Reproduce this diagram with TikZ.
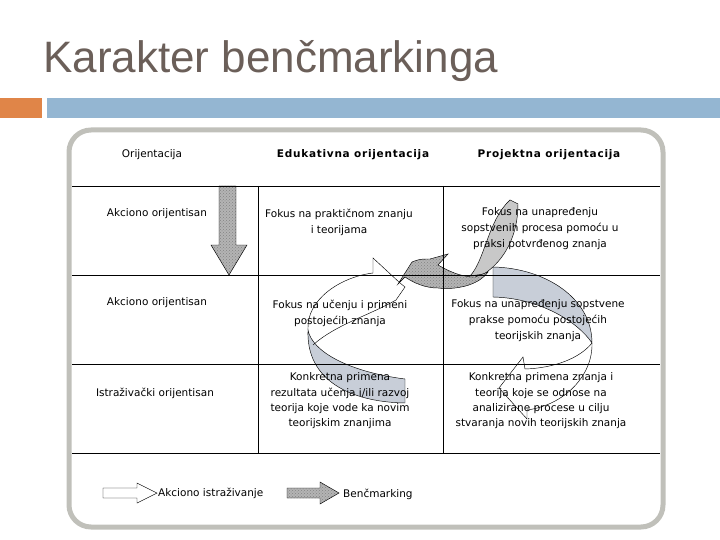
\documentclass[tikz,border=0pt]{standalone}
\usepackage{fontspec}
\setmainfont{DejaVu Sans}
\newfontfamily\titlefont{Liberation Sans}
\usepackage{tikz}
\usetikzlibrary{patterns}

\begin{document}
\begin{tikzpicture}[x=1pt,y=-1pt,
  cell/.style={align=center,inner sep=0pt,font=\fontsize{10.5}{16}\selectfont},
  headcell/.style={cell,font=\fontsize{10.5}{16}\selectfont\bfseries\addfontfeature{LetterSpace=7}},
  grid line/.style={line width=0.8pt},
  outline/.style={draw=black,line width=0.45pt},
  bench/.style={outline,preaction={fill=benchColor},pattern=crosshatch dots,pattern color=benchDots}]
\definecolor{titleColor}{RGB}{107,95,89}
\definecolor{orangeColor}{RGB}{224,133,72}
\definecolor{blueColor}{RGB}{148,182,210}
\definecolor{boxColor}{RGB}{192,192,186}
\definecolor{faceA}{RGB}{200,206,216}
\definecolor{faceD}{RGB}{200,200,200}
\definecolor{benchColor}{RGB}{180,180,180}
\definecolor{benchDots}{RGB}{130,130,130}
\useasboundingbox (0,0) rectangle (720,540);
\node[anchor=base west,inner sep=0pt,text=titleColor,font=\titlefont\fontsize{44}{50}\selectfont] (title) at (43,73) {Karakter benčmarkinga};
\fill[orangeColor] (0,98) rectangle (42,118);
\fill[blueColor] (47,98) rectangle (720,118);
\draw[boxColor,line width=5pt,rounded corners=22pt] (69,130) rectangle (663,527);
\path[bench] (219,186) -- (236,186) -- (236,245) -- (247,245) -- (229,275) -- (211,245) -- (219,245) -- cycle;
\path[outline,fill=faceA] (493,267) .. controls (545,268) and (592,298) .. (592,343) .. controls (578,322) and (540,298) .. (493,297) -- cycle;
\draw[outline] (592,343) .. controls (593,375) and (565,405) .. (527,410) -- (527,419) -- (499,388) -- (523,357) -- (525,369) .. controls (555,368) and (580,358) .. (592,343);
\path[outline,fill=faceA] (308,330) .. controls (312,352) and (350,372) .. (405,379) -- (405,403) .. controls (350,402) and (306,380) .. (308,330) -- cycle;
\draw[outline] (308,330) .. controls (306,300) and (340,277) .. (373,273) -- (373,258) -- (400,283) -- (405,287) -- (396,300) .. controls (370,315) and (335,325) .. (313,345);
\path[outline,fill=faceD] (510,200) -- (518,204) .. controls (518,235) and (505,260) .. (484,274) -- (470,276) .. controls (485,260) and (488,220) .. (510,200) -- cycle;
\path[bench] (398,284) -- (412,262) .. controls (420,259) .. (430,259) -- (448,254) -- (438,265) .. controls (450,272) and (462,277) .. (475,277) -- (488,272) .. controls (478,286) and (455,290) .. (438,288) .. controls (425,288) and (414,283) .. (405,277) -- cycle;
\foreach \y in {186,275,364,453}
  \draw[grid line] (72,\y) -- (660,\y);
\foreach \x in {258,443}
  \draw[grid line] (\x,186) -- (\x,453);
\node[cell] (hOrient) at (152,155) {Orijentacija};
\node[headcell] (hEdu) at (353,155) {Edukativna orijentacija};
\node[headcell] (hProj) at (549,155) {Projektna orijentacija};
\node[cell] (aoOne) at (157,214) {Akciono orijentisan};
\node[cell] (eduOne) at (339,222) {Fokus na praktičnom znanju\\i teorijama};
\node[cell] (projOne) at (540,229) {Fokus na unapređenju\\sopstvenih procesa pomoću u\\praksi potvrđenog znanja};
\node[cell] (aoTwo) at (157,303) {Akciono orijentisan};
\node[cell] (eduTwo) at (340,313) {Fokus na učenju i primeni\\postojećih znanja};
\node[cell] (projTwo) at (538,321) {Fokus na unapređenju sopstvene\\prakse pomoću postojećih\\teorijskih znanja};
\node[cell] (isOne) at (155,393) {Istraživački orijentisan};
\node[cell,font=\fontsize{10.5}{15.3}\selectfont] (eduThree) at (340,401) {Konkretna primena\\rezultata učenja i/ili razvoj\\teorija koje vode ka novim\\teorijskim znanjima};
\node[cell,font=\fontsize{10.5}{15.3}\selectfont] (projThree) at (541,401) {Konkretna primena znanja i\\teorija koje se odnose na\\analizirane procese u cilju\\stvaranja novih teorijskih znanja};
\draw[outline] (103,488) -- (137,488) -- (137,483) -- (157,493) -- (137,503) -- (137,498) -- (103,498) -- cycle;
\node[cell,anchor=west] (legAction) at (158,493) {Akciono istraživanje};
\path[bench] (287,488) -- (320,488) -- (320,482) -- (339,493) -- (320,504) -- (320,498) -- (287,498) -- cycle;
\node[cell,anchor=west] (legBench) at (343,494) {Benčmarking};
\end{tikzpicture}
\end{document}
